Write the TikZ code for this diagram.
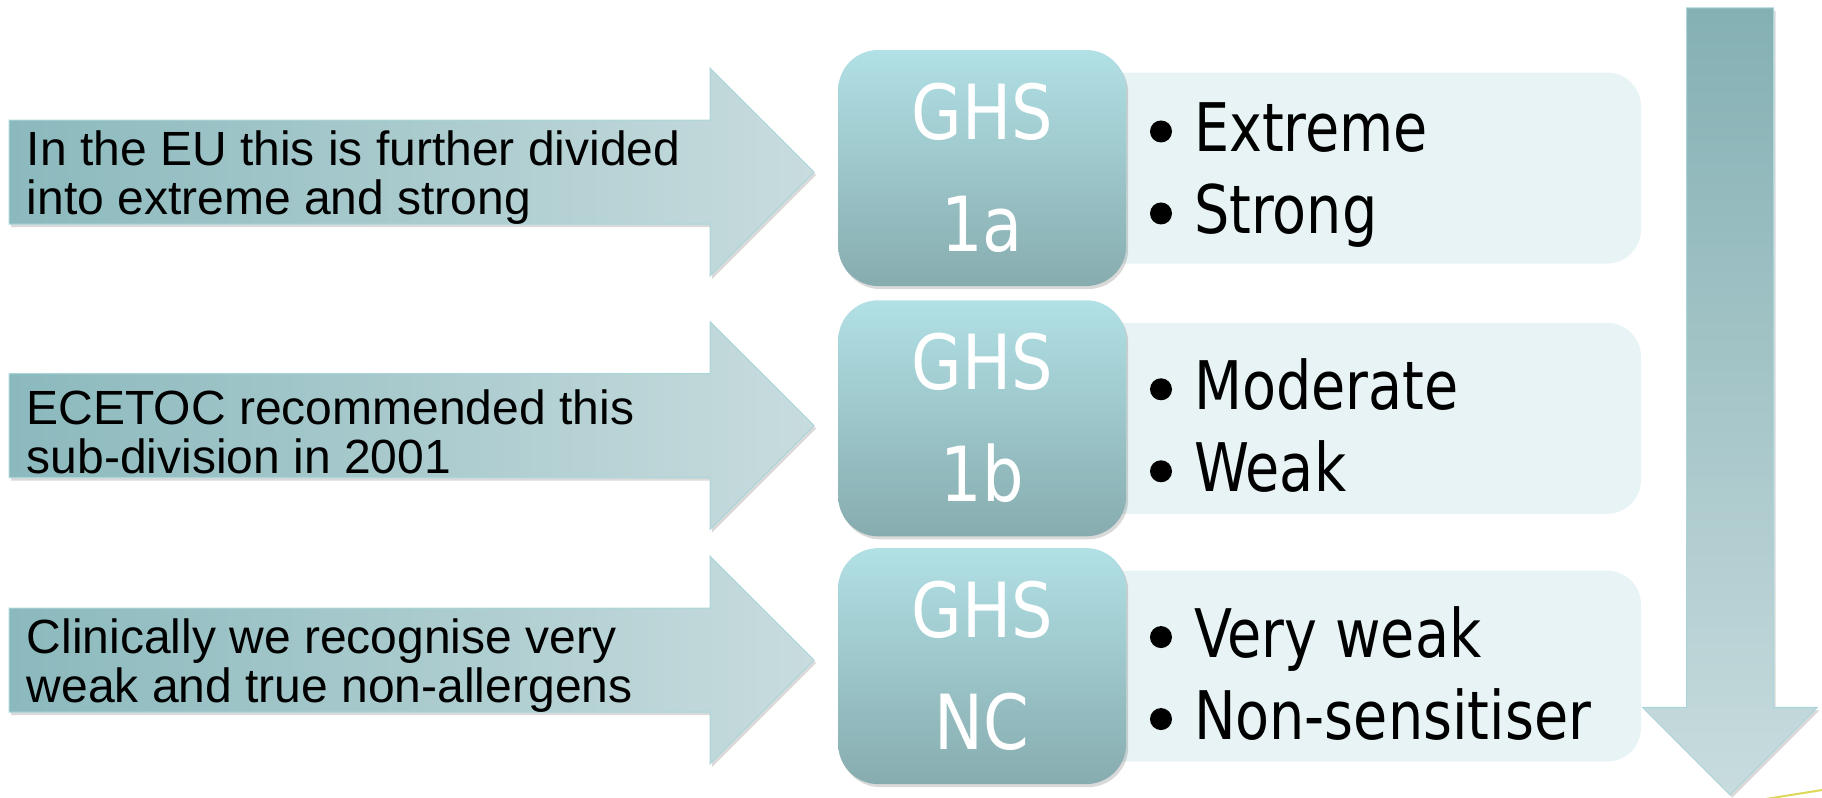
\documentclass[tikz,border=0pt]{standalone}
\usepackage{fontspec}
\setmainfont{Liberation Sans}
\newfontfamily\tahomalike{DejaVu Sans}[FakeStretch=0.86]
\newfontfamily\tahomanarrow{DejaVu Sans}[FakeStretch=0.83]
\usepackage{xcolor}
\usetikzlibrary{shapes.arrows, shadows, positioning}

\definecolor{arrowdark}{HTML}{8BB9BD}
\definecolor{arrowlight}{HTML}{C8DCDE}
\definecolor{arrowedge}{HTML}{A9D6DA}
\definecolor{ghstop}{HTML}{B1E0E5}
\definecolor{ghsbottom}{HTML}{87ACAF}
\definecolor{listfill}{HTML}{E7F3F4}
\definecolor{swoopcolor}{HTML}{DDD85A}

% round bullet in front of each item
\newcommand{\itemdot}{\tikz[baseline=-10pt]\fill (0pt,0pt) circle (5.5pt);\hspace{11pt}}

\begin{document}
\begin{tikzpicture}[x=0.5pt, y=-0.5pt,
    softshadow/.style={drop shadow={shadow xshift=1pt, shadow yshift=-1.5pt, opacity=0.25, fill=black!60}},
    bigarrow/.style={single arrow, draw=arrowedge, line width=0.5pt, left color=arrowdark, right color=arrowlight,
        inner xsep=0pt, inner ysep=25.75pt, minimum height=402.5pt, single arrow head extend=26pt, softshadow},
    downarrow/.style={bigarrow, rotate=-90, inner ysep=21.5pt, minimum height=393.5pt, single arrow head extend=22pt,
        top color=arrowdark!95!black, bottom color=arrowlight},
    note/.style={inner sep=0pt, align=left, font=\fontsize{24}{24.5}\selectfont},
    ghsbox/.style={rectangle, rounded corners=20pt, top color=ghstop, bottom color=ghsbottom, minimum width=144pt,
        minimum height=118pt, text=white, align=center, font=\tahomalike\fontsize{38}{56}\selectfont, softshadow},
    listbox/.style={rectangle, rounded corners=17pt, fill=listfill, minimum width=290.5pt, minimum height=95.5pt},
    items/.style={inner sep=0pt, align=left, font=\tahomanarrow\fontsize{33.5}{41}\selectfont},
    swoop/.style={draw=swoopcolor, line width=1pt}]

    \useasboundingbox (0,0) rectangle (1822,798);

    % notes on the left
    \node [bigarrow] (arrowEU) at (385.5,172) {};
    \node [bigarrow] (arrowECETOC) at (385.5,425.5) {};
    \node [bigarrow] (arrowClinic) at (385.5,660) {};
    \node [note, anchor=west] (noteEU) at ([xshift=9pt,yshift=-3pt]arrowEU.west) {In the EU this is further divided\\into extreme and strong};
    \node [note, anchor=west] (noteECETOC) at ([xshift=9pt,yshift=-3pt]arrowECETOC.west) {ECETOC recommended this\\sub-division in 2001};
    \node [note, anchor=west] (noteClinic) at ([xshift=9pt,yshift=-3pt]arrowClinic.west) {Clinically we recognise very\\weak and true non-allergens};

    % categories
    \node [listbox] (listA) at (1350.5,168) {};
    \node [listbox, below=29.25pt of listA] (listB) {};
    \node [listbox, below=28pt of listB] (listC) {};
    \node [ghsbox, left=-33.5pt of listA] (ghsA) {GHS\\1a};
    \node [ghsbox, left=-33.5pt of listB] (ghsB) {GHS\\1b};
    \node [ghsbox, left=-33.5pt of listC] (ghsC) {GHS\\NC};
    \node [items, anchor=west] (itemsA) at ([xshift=11.5pt,yshift=-3.5pt]ghsA.east) {\itemdot Extreme\\\itemdot Strong};
    \node [items, anchor=west] (itemsB) at ([xshift=11.5pt,yshift=-3.5pt]ghsB.east) {\itemdot Moderate\\\itemdot Weak};
    \node [items, anchor=west] (itemsC) at ([xshift=11.5pt,yshift=-3.5pt]ghsC.east) {\itemdot Very weak\\\itemdot Non-sensitiser};

    % potency scale
    \node [downarrow] (potency) at (1730,379.5) {};

    \coordinate (swoopL) at (1766,799);
    \coordinate (swoopR) at (1822,790);
    \draw [swoop] (swoopL) -- (swoopR);
\end{tikzpicture}
\end{document}
